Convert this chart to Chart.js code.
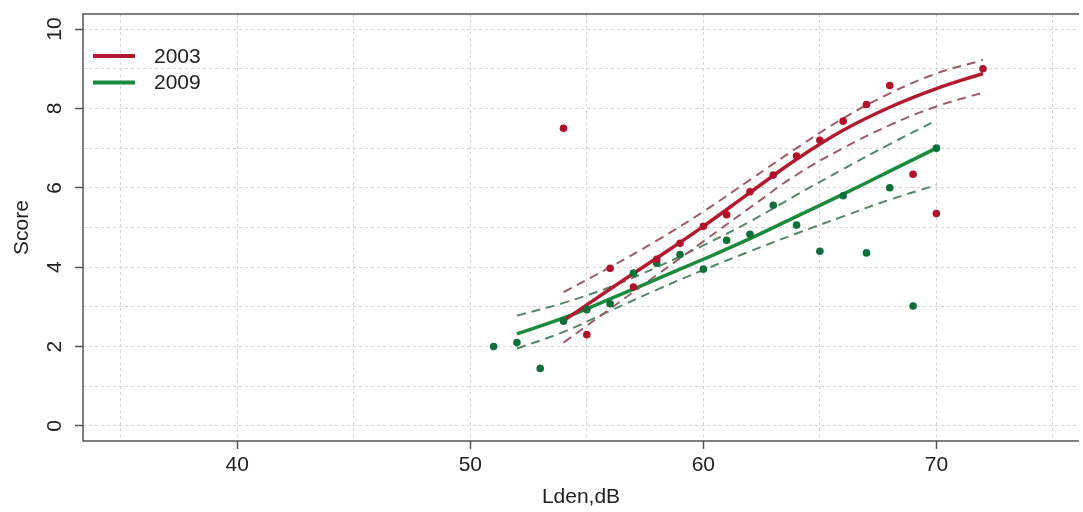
<!DOCTYPE html>
<html>
<head>
<meta charset="utf-8">
<script src="https://cdn.jsdelivr.net/npm/chart.js@4.4.1/dist/chart.umd.min.js"></script>
<style>
html,body{margin:0;padding:0;background:#fff;}
#wrap{width:1083px;height:512px;position:relative;}
</style>
</head>
<body>
<div id="wrap"><canvas id="c" width="1083" height="512"></canvas></div>
<script>
// ---- data ----
const lden2003  = [54, 55, 56, 57, 58, 59, 60, 61, 62, 63, 64, 65, 66, 67, 68, 69, 70, 72];
const score2003 = [7.5, 2.3, 3.97, 3.5, 4.2, 4.6, 5.03, 5.32, 5.9, 6.32, 6.8, 7.2, 7.68, 8.1, 8.58, 6.34, 5.35, 9.0];
const lden2009  = [51, 52, 53, 54, 55, 56, 57, 58, 59, 60, 61, 62, 63, 64, 65, 66, 67, 68, 69, 70];
const score2009 = [2.0, 2.1, 1.45, 2.64, 2.93, 3.08, 3.85, 4.1, 4.32, 3.95, 4.68, 4.83, 5.56, 5.06, 4.4, 5.8, 4.36, 6.0, 3.02, 7.0];

const fitX2003   = [54, 56, 58, 60, 62, 64, 66, 68, 70, 72];
const fit2003    = [2.65, 3.45, 4.23, 5.03, 5.88, 6.72, 7.45, 8.03, 8.5, 8.88];
const upper2003  = [3.37, 4.0, 4.67, 5.4, 6.2, 7.0, 7.75, 8.38, 8.88, 9.22];
const lower2003  = [2.1, 2.95, 3.8, 4.65, 5.5, 6.33, 7.0, 7.58, 8.05, 8.4];

const fitX2009   = [52, 54, 56, 58, 60, 62, 64, 66, 68, 70];
const fit2009    = [2.32, 2.72, 3.2, 3.7, 4.2, 4.72, 5.28, 5.84, 6.42, 7.0];
const upper2009  = [2.78, 3.1, 3.5, 4.0, 4.55, 5.15, 5.82, 6.47, 7.1, 7.7];
const lower2009  = [1.95, 2.37, 2.9, 3.43, 3.93, 4.4, 4.85, 5.28, 5.7, 6.07];

const xTicks = [40, 50, 60, 70];
const yTicks = [0, 2, 4, 6, 8, 10];
const seriesNames = ['2003', '2009'];

// ---- styles ----
const RED_PT = '#b0122c', GREEN_PT = '#0f6f3a';
const RED_LN = '#b3192f', GREEN_LN = '#1c8a3e';
const RED_DASH = '#9c5c66', GREEN_DASH = '#538767';
const FONT = 'Liberation Sans, Arial, Helvetica, sans-serif';

const pts = (xs, ys) => xs.map((x, i) => ({x: x, y: ys[i]}));

function lineDs(xs, ys, color, width, dash, label) {
  return {
    label: label || '',
    data: pts(xs, ys),
    showLine: true,
    borderColor: color,
    backgroundColor: color,
    borderWidth: width,
    borderDash: dash || [],
    pointRadius: 0,
    pointHoverRadius: 0,
    tension: 0.4,
    fill: false
  };
}
function pointDs(xs, ys, color) {
  return {
    label: '',
    data: pts(xs, ys),
    showLine: false,
    pointRadius: 3.8,
    pointBorderWidth: 0,
    pointBackgroundColor: color,
    borderColor: color,
    backgroundColor: color
  };
}

const datasets = [
  pointDs(lden2003, score2003, RED_PT),
  pointDs(lden2009, score2009, GREEN_PT),
  lineDs(fitX2003, fit2003, RED_LN, 3.5, null, seriesNames[0]),
  lineDs(fitX2009, fit2009, GREEN_LN, 3.5, null, seriesNames[1]),
  lineDs(fitX2003, upper2003, RED_DASH, 2, [9, 6]),
  lineDs(fitX2003, lower2003, RED_DASH, 2, [9, 6]),
  lineDs(fitX2009, upper2009, GREEN_DASH, 2, [9, 6]),
  lineDs(fitX2009, lower2009, GREEN_DASH, 2, [9, 6])
];

const frameAndLegend = {
  id: 'frameAndLegend',
  afterDraw(chart) {
    const ctx = chart.ctx, a = chart.chartArea;
    ctx.save();
    ctx.strokeStyle = '#555';
    ctx.lineWidth = 1.5;
    ctx.setLineDash([]);
    ctx.beginPath();
    ctx.moveTo(a.right, a.top);
    ctx.lineTo(a.left, a.top);
    ctx.lineTo(a.left, a.bottom);
    ctx.lineTo(a.right, a.bottom);
    ctx.stroke();
    // legend
    const items = [[seriesNames[0], RED_LN], [seriesNames[1], GREEN_LN]];
    ctx.font = '21px ' + FONT;
    ctx.textBaseline = 'middle';
    ctx.textAlign = 'left';
    items.forEach((it, i) => {
      const y = 56 + i * 26.5;
      ctx.strokeStyle = it[1];
      ctx.lineWidth = 4;
      ctx.beginPath();
      ctx.moveTo(93, y);
      ctx.lineTo(135, y);
      ctx.stroke();
      ctx.fillStyle = '#222';
      ctx.fillText(it[0], 154, y + 1);
    });
    ctx.restore();
  }
};

new Chart(document.getElementById('c'), {
  type: 'scatter',
  data: {datasets: datasets},
  options: {
    responsive: false,
    animation: false,
    events: [],
    layout: {padding: {left: 0, top: 14, right: 0, bottom: 0}},
    plugins: {legend: {display: false}, tooltip: {enabled: false}},
    scales: {
      x: {
        type: 'linear',
        min: 33.38, max: 76.12,
        afterFit: s => { s.height = 71; s.paddingLeft = 0; s.paddingRight = 0; },
        ticks: {
          stepSize: 5, includeBounds: false, autoSkip: false,
          maxRotation: 0, minRotation: 0,
          callback: v => xTicks.includes(v) ? String(v) : '',
          font: {family: FONT, size: 21}, color: '#222', padding: 4
        },
        grid: {
          color: '#d4d4d4', lineWidth: 1,
          tickColor: c => (c.tick && xTicks.includes(c.tick.value)) ? '#555' : 'rgba(0,0,0,0)',
          tickLength: 8, tickWidth: 1.5
        },
        border: {display: false, dash: [3, 3]},
        title: {display: true, text: 'Lden,dB', font: {family: FONT, size: 21}, color: '#222', padding: {top: 0, bottom: 2}}
      },
      y: {
        type: 'linear',
        min: -0.38, max: 10.38,
        afterFit: s => { s.width = 83; s.paddingTop = 0; s.paddingBottom = 0; },
        ticks: {
          stepSize: 1, includeBounds: false, autoSkip: false,
          minRotation: 90, maxRotation: 90, crossAlign: 'center',
          callback: v => yTicks.includes(v) ? String(v) : '',
          font: {family: FONT, size: 21}, color: '#222', padding: 8
        },
        grid: {
          color: '#d4d4d4', lineWidth: 1,
          tickColor: c => (c.tick && yTicks.includes(c.tick.value)) ? '#555' : 'rgba(0,0,0,0)',
          tickLength: 8, tickWidth: 1.5
        },
        border: {display: false, dash: [3, 3]},
        title: {display: true, text: 'Score', font: {family: FONT, size: 21}, color: '#222', padding: {top: 10, bottom: 0}}
      }
    }
  },
  plugins: [frameAndLegend]
});
</script>
</body>
</html>
